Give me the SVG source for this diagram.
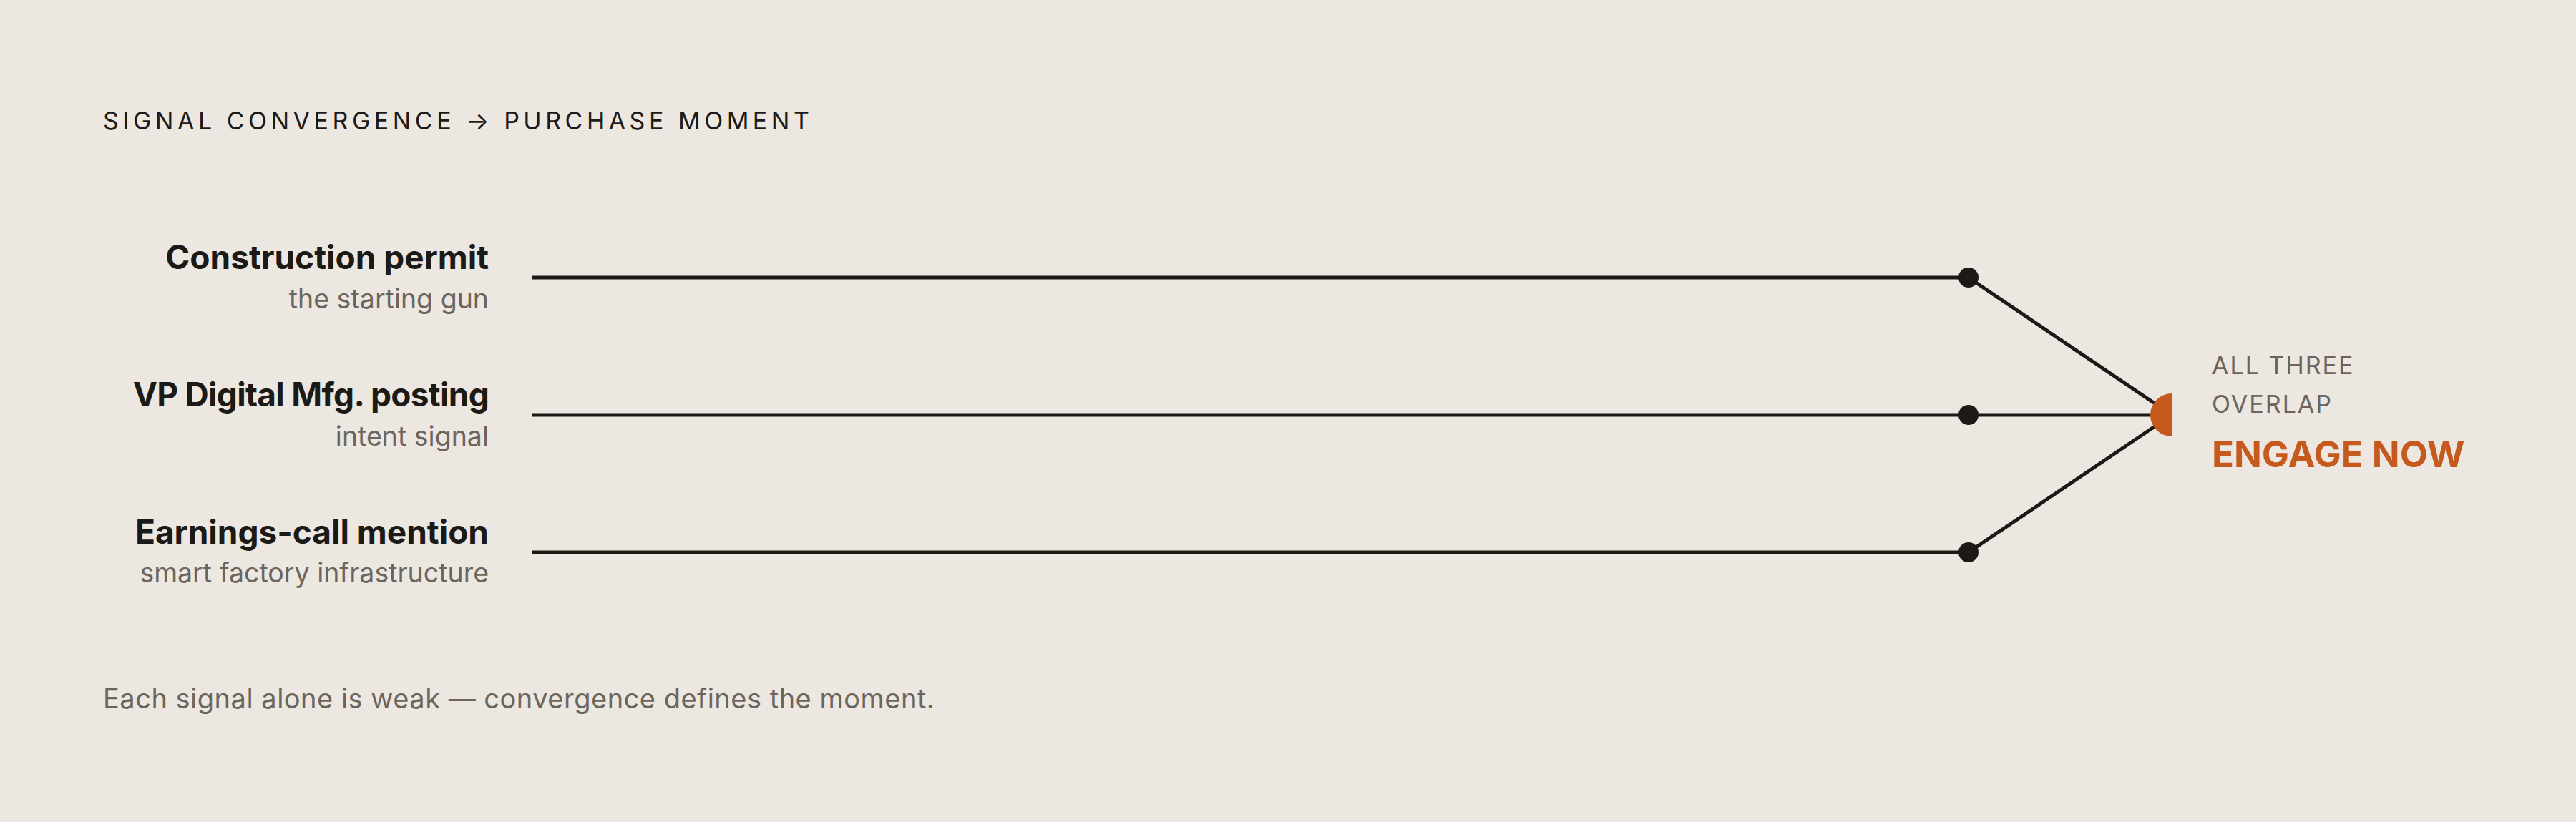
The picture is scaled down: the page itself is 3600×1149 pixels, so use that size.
<svg xmlns="http://www.w3.org/2000/svg" width="3600" height="1149" viewBox="0 0 3600 1149">
<style>
text{font-family:Inter,"Noto Sans","Liberation Sans",sans-serif}
.title{font-size:34px;letter-spacing:5.5px;fill:#1c1a17}
.lbl{font-size:46px;font-weight:700;fill:#1c1a17;text-anchor:end}
.sub{font-size:37.5px;fill:#6b655e;text-anchor:end}
.tag{font-size:34px;letter-spacing:2px;fill:#6b655e}
.cta{font-size:51px;font-weight:700;fill:#c65a1e}
.foot{font-size:38px;fill:#6b655e;letter-spacing:0.5px}
.wire{fill:none;stroke:#1c1a17;stroke-width:5}
.dot{fill:#1c1a17}
</style>
<rect width="3600" height="1149" fill="#ece8e1"/>
<text class="title" x="144" y="181">SIGNAL CONVERGENCE → PURCHASE MOMENT</text>
<g id="connectors">
<path class="wire" d="M744 388 H2751 L3035 580"/>
<path class="wire" d="M744 580 H3035"/>
<path class="wire" d="M744 772 H2751 L3035 580"/>
</g>
<g id="signal-permit">
<text class="lbl" x="683" y="376">Construction permit</text>
<text class="sub" x="683" y="431">the starting gun</text>
<circle class="dot" cx="2751" cy="388" r="14"/>
</g>
<g id="signal-posting">
<text class="lbl" x="683" y="568" letter-spacing="-0.7">VP Digital Mfg. posting</text>
<text class="sub" x="683" y="623">intent signal</text>
<circle class="dot" cx="2751" cy="580" r="14"/>
</g>
<g id="signal-earnings">
<text class="lbl" x="683" y="760">Earnings-call mention</text>
<text class="sub" x="683" y="814">smart factory infrastructure</text>
<circle class="dot" cx="2751" cy="772" r="14"/>
</g>
<g id="convergence">
<path d="M3035 550 A30 30 0 0 0 3035 610 Z" fill="#c65a1e"/>
<text class="tag" x="3091" y="523">ALL THREE</text>
<text class="tag" x="3091" y="577">OVERLAP</text>
<text class="cta" x="3091" y="653">ENGAGE NOW</text>
</g>
<text class="foot" x="144" y="990">Each signal alone is weak — convergence defines the moment.</text>
</svg>
